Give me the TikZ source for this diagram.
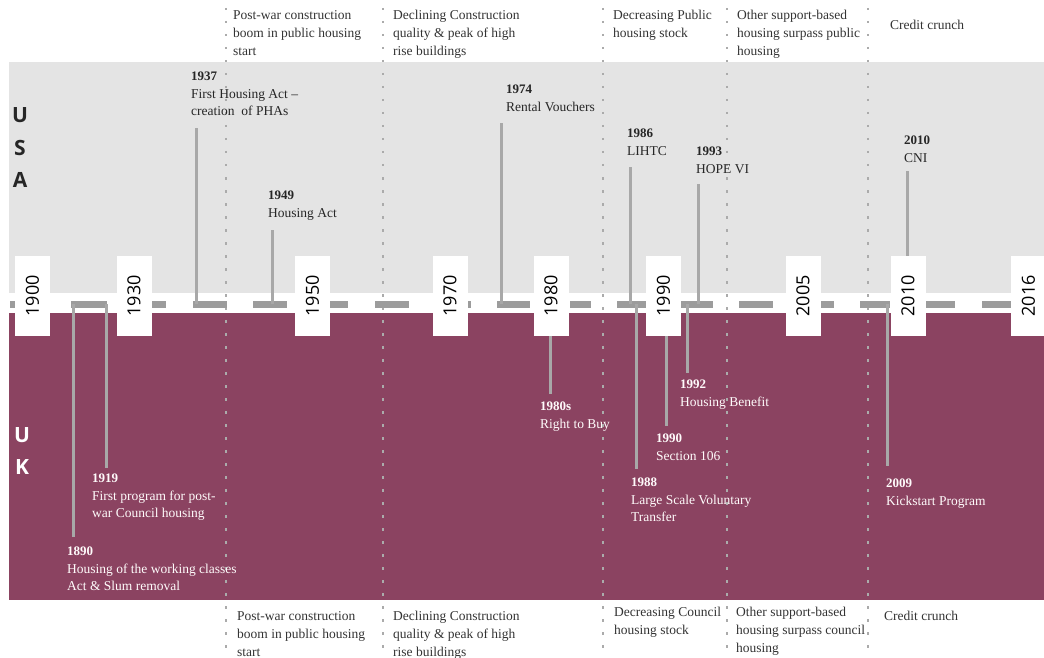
\documentclass[tikz,border=0pt]{standalone}
\usepackage{fontspec}
\setmainfont{Liberation Serif}
\newfontfamily\yearfont{Open Sans}
\definecolor{usagray}{HTML}{E4E4E4}
\definecolor{ukred}{HTML}{8B4361}
\definecolor{stickgray}{HTML}{A8A8A8}
\definecolor{dashgray}{HTML}{9C9C9C}
\definecolor{dotgray}{HTML}{ABABAB}
\newcommand{\yr}[1]{{\fontsize{13}{17.5}\selectfont\bfseries #1}}

\begin{document}
\begin{tikzpicture}[x=1pt,y=-1pt,
  lbl/.style={anchor=north west,inner sep=0pt,align=left,font=\fontsize{13.5}{17.5}\selectfont},
  usa/.style={lbl,text=black!85},
  uk/.style={lbl,text=white!94!pink},
  head/.style={lbl,text=black!80,font=\fontsize{13.5}{18}\selectfont},
  stick/.style={draw=stickgray,line width=3pt},
  dots/.style={draw=dotgray,line width=2.5pt,dash pattern=on 2.5pt off 10.5pt},
  tldash/.style={draw=dashgray,line width=7pt},
  yearbox/.style={fill=white,minimum width=80,minimum height=35,inner sep=0pt,rotate=90,font=\yearfont\fontsize{18}{18}\selectfont},
  country/.style={inner sep=0pt,font=\yearfont\bfseries\fontsize{21}{21}\selectfont}]
  \useasboundingbox (0,0) rectangle (1044,658);

  % bands
  \fill[usagray] (9,62) rectangle (1044,293);
  \fill[ukred] (9,313) rectangle (1044,600);

  \node[country,text=black!85] (cu) at (20,115) {U};
  \node[country,text=black!85] (cs) at (20,148) {S};
  \node[country,text=black!85] (ca) at (20,180) {A};
  \node[country,text=white] (cu2) at (22,435) {U};
  \node[country,text=white] (ck) at (22,467) {K};

  % period separators
  \foreach \x/\n in {226/a,383/b,603/c,727/d,868/e} {
    \coordinate (dtop\n) at (\x,8);
    \coordinate (dbot\n) at (\x,658);
    \draw[dots] (dtop\n) -- (dbot\n);
  }

  % timeline
  \foreach \a/\b in {10/15,71/107,152/166,193/227,253/287,330/348,375/409,468/471,
    497/530,570/591,617/646,681/713,739/773,820/834,860/890,925/955,982/1011}
    \draw[tldash] (\a,304) -- (\b,304);

  % USA
  \coordinate (s1937) at (196,304); \coordinate (e1937) at (196,128);
  \coordinate (s1949) at (272,304); \coordinate (e1949) at (272,230);
  \coordinate (s1974) at (501,304); \coordinate (e1974) at (501,123);
  \coordinate (s1986) at (630,304); \coordinate (e1986) at (630,167);
  \coordinate (s1993) at (698,304); \coordinate (e1993) at (698,184);
  \coordinate (s2010) at (907,304); \coordinate (e2010) at (907,171);
  \foreach \n in {1937,1949,1974,1986,1993,2010}
    \draw[stick] (s\n) -- (e\n);

  % UK
  \coordinate (s1890) at (73,304);  \coordinate (e1890) at (73,537);
  \coordinate (s1919) at (106,304); \coordinate (e1919) at (106,468);
  \coordinate (s1980) at (550,304); \coordinate (e1980) at (550,394);
  \coordinate (s1988) at (636,304); \coordinate (e1988) at (636,469);
  \coordinate (s1990) at (666,304); \coordinate (e1990) at (666,426);
  \coordinate (s1992) at (687,304); \coordinate (e1992) at (687,373);
  \coordinate (s2009) at (887,304); \coordinate (e2009) at (887,466);
  \foreach \n in {1890,1919,1980,1988,1990,1992,2009}
    \draw[stick] (s\n) -- (e\n);

  % year boxes
  \foreach \x/\y in {32.5/1900,134/1930,312.5/1950,450/1970,551/1980,
    663.5/1990,803/2005,908/2010,1028.5/2016}
    \node[yearbox] (b\y) at (\x,296) {\y};

  \node[usa] (n1937) at (191,72) {\yr{1937}\\First Housing Act --\\creation\ \ of PHAs};
  \node[usa] (n1949) at (268,191) {\yr{1949}\\Housing Act};
  \node[usa] (n1974) at (506,85) {\yr{1974}\\Rental Vouchers};
  \node[usa] (n1986) at (627,129) {\yr{1986}\\LIHTC};
  \node[usa] (n1993) at (696,147) {\yr{1993}\\HOPE VI};
  \node[usa] (n2010) at (904,136) {\yr{2010}\\CNI};

  \node[uk] (n1890) at (67,547) {\yr{1890}\\Housing of the working classes\\Act \& Slum removal};
  \node[uk] (n1919) at (92,474) {\yr{1919}\\First program for post-\\war Council housing};
  \node[uk] (n1980) at (540,402) {\yr{1980s}\\Right to Buy};
  \node[uk] (n1988) at (631,478) {\yr{1988}\\Large Scale Voluntary\\Transfer};
  \node[uk] (n1990) at (656,434) {\yr{1990}\\Section 106};
  \node[uk] (n1992) at (680,380) {\yr{1992}\\Housing Benefit};
  \node[uk] (n2009) at (886,479) {\yr{2009}\\Kickstart Program};

  % periods, top (USA)
  \node[head] (pa) at (233,10) {Post-war construction\\boom in public housing\\start};
  \node[head] (pb) at (393,10) {Declining Construction\\quality \& peak of high\\rise buildings};
  \node[head] (pc) at (613,10) {Decreasing Public\\housing stock};
  \node[head] (pd) at (737,10) {Other support-based\\housing surpass public\\housing};
  \node[head] (pe) at (890,20) {Credit crunch};

  % periods, bottom (UK)
  \node[head] (qa) at (237,611) {Post-war construction\\boom in public housing\\start};
  \node[head] (qb) at (393,611) {Declining Construction\\quality \& peak of high\\rise buildings};
  \node[head] (qc) at (614,607) {Decreasing Council\\housing stock};
  \node[head] (qd) at (736,607) {Other support-based\\housing surpass council\\housing};
  \node[head] (qe) at (884,611) {Credit crunch};
\end{tikzpicture}
\end{document}
